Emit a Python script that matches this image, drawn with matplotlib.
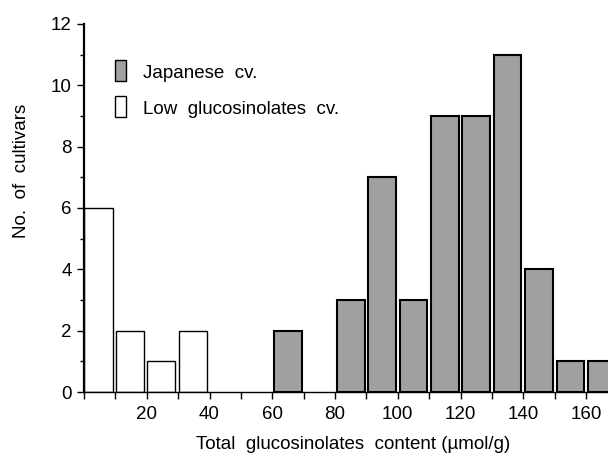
import matplotlib
matplotlib.use("Agg")
import matplotlib.pyplot as plt
from matplotlib.patches import Rectangle
import numpy as np

plt.rcParams['font.family'] = ['Liberation Sans', 'DejaVu Sans']

# bin left edges (umol/g) and counts
low_bins = [0, 10, 20, 30]
low_counts = [6, 2, 1, 2]
jp_bins = [60, 80, 90, 100, 110, 120, 130, 140, 150, 160]
jp_counts = [2, 3, 7, 3, 9, 9, 11, 4, 1, 1]

x_major = [20, 40, 60, 80, 100, 120, 140, 160]
y_major = [0, 2, 4, 6, 8, 10, 12]

legend_labels = ['Japanese  cv.', 'Low  glucosinolates  cv.']

gray = '#a0a0a0'
FS = 13.5
W, H = 608, 461

fig = plt.figure(figsize=(6.08, 4.61), dpi=100)
ax = fig.add_axes([84 / W, 1 - 392 / H, 1 - 84 / W, (392 - 24) / H])

ax.bar(np.array(low_bins) + 0.15, low_counts, width=9.0, align='edge',
       facecolor='white', edgecolor='black', linewidth=1.0)
ax.bar(np.array(jp_bins) + 0.6, jp_counts, width=8.8, align='edge',
       facecolor=gray, edgecolor='black', linewidth=1.5)

ax.set_xlim(0, 167)
ax.set_ylim(0, 12)

ax.spines['top'].set_visible(False)
ax.spines['right'].set_visible(False)
ax.spines['left'].set_linewidth(1.6)
ax.spines['bottom'].set_linewidth(1.0)

ax.set_xticks(x_major)
ax.set_xticks(np.arange(0, 170, 10), minor=True)
ax.set_yticks(y_major)
ax.set_yticks(np.arange(1, 12, 2), minor=True)
ax.tick_params(axis='both', which='major', direction='out', length=5, width=1,
               labelsize=FS)
ax.tick_params(axis='x', which='major', pad=5)
ax.tick_params(axis='y', which='major', pad=4)
ax.tick_params(axis='x', which='minor', direction='out', length=5, width=1)
ax.tick_params(axis='y', which='minor', direction='out', length=3, width=1)

fig.text(353 / W, 1 - 444 / H, 'Total  glucosinolates  content (\u00b5mol/g)',
         fontsize=FS, ha='center', va='center')
fig.text(21 / W, 1 - 171 / H, 'No.  of  cultivars', fontsize=FS,
         ha='center', va='center', rotation=90)

# legend (figure pixel layout)
leg_faces = [gray, 'white']
leg_tops = [60, 96]
for face, top, label in zip(leg_faces, leg_tops, legend_labels):
    fig.patches.append(Rectangle((115 / W, 1 - (top + 21) / H), 11 / W, 21 / H,
                                 transform=fig.transFigure, facecolor=face,
                                 edgecolor='black', linewidth=1.0))
    fig.text(143 / W, 1 - (top + 13) / H, label, fontsize=FS,
             ha='left', va='center')

fig.savefig('out.png', dpi=100)
